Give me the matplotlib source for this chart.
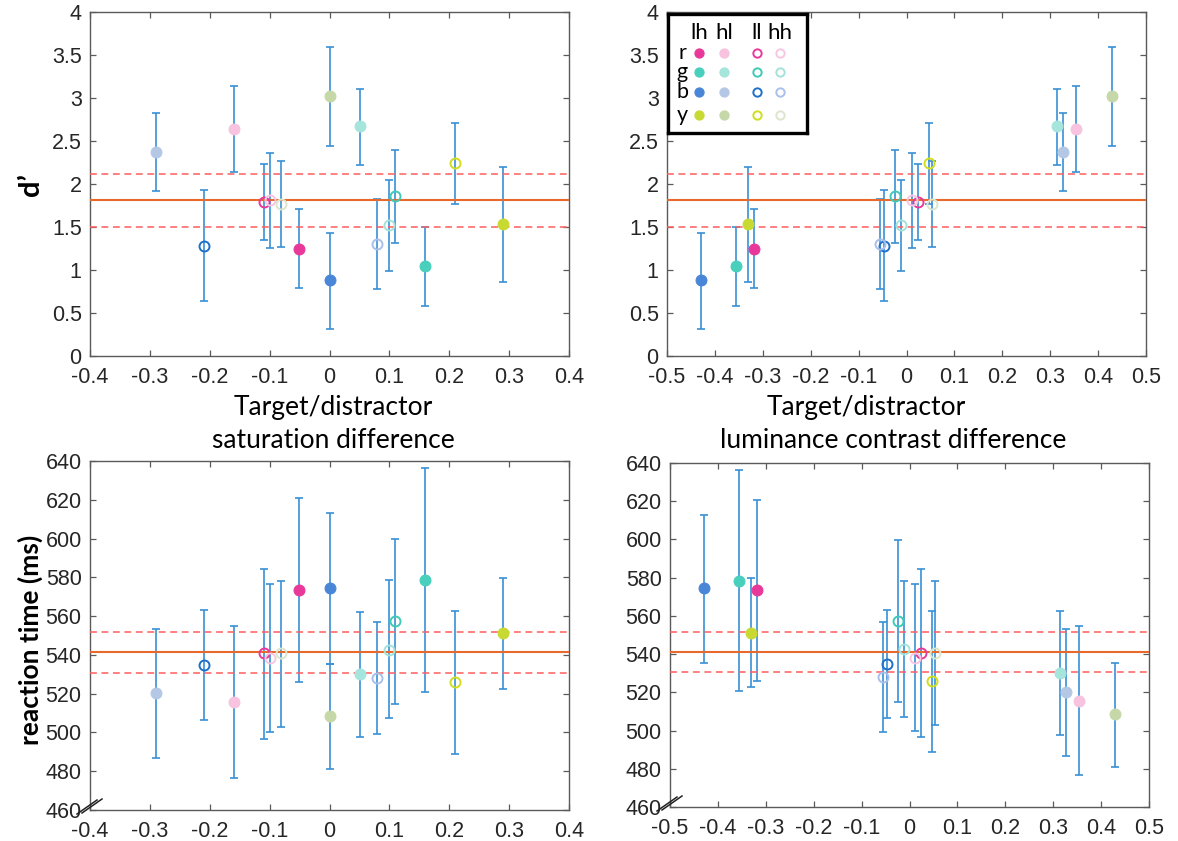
import matplotlib
matplotlib.use('Agg')
import matplotlib.pyplot as plt
from matplotlib.lines import Line2D

# ---------------- data ----------------
color_names = ['r', 'g', 'b', 'y']
type_names = ['lh', 'hl', 'll', 'hh']
type_filled = [True, True, False, False]
palette = [
    ['#E8399A', '#F7C3DF', '#E8399A', '#F8C6E1'],   # r
    ['#48D0BD', '#A6E5DC', '#3FCAB6', '#A3E3D9'],   # g
    ['#4A86D8', '#B4C8E6', '#1F70C8', '#A8C0EA'],   # b
    ['#C8DA32', '#C6D8A8', '#D0DE1E', '#DCE6CC'],   # y
]

# condition order: r-lh, r-hl, r-ll, r-hh, g-lh, ..., y-hh
sat_diff = [-0.051, -0.160, -0.110, -0.100,
            0.160, 0.051, 0.110, 0.100,
            0.000, -0.290, -0.210, 0.080,
            0.290, 0.000, 0.209, -0.081]
lum_diff = [-0.318, 0.353, 0.024, 0.012,
            -0.355, 0.315, -0.025, -0.012,
            -0.430, 0.326, -0.047, -0.056,
            -0.331, 0.429, 0.047, 0.054]
dprime = [1.248, 2.643, 1.787, 1.810,
          1.047, 2.674, 1.864, 1.527,
          0.880, 2.370, 1.283, 1.306,
          1.531, 3.027, 2.244, 1.771]
dprime_lo = [0.787, 2.140, 1.345, 1.260,
             0.581, 2.220, 1.318, 0.984,
             0.310, 1.915, 0.640, 0.783,
             0.864, 2.446, 1.764, 1.270]
dprime_hi = [1.713, 3.140, 2.233, 2.360,
             1.496, 3.110, 2.395, 2.050,
             1.426, 2.820, 1.934, 1.830,
             2.194, 3.590, 2.713, 2.270]
rt = [573.6, 515.7, 540.8, 538.2,
      578.4, 530.3, 557.5, 542.7,
      574.5, 520.1, 534.8, 528.0,
      551.3, 508.6, 525.8, 540.8]
rt_lo = [526.0, 476.6, 496.4, 500.0,
         520.8, 497.6, 514.8, 507.3,
         535.4, 486.6, 506.4, 499.2,
         522.6, 481.0, 488.7, 503.0]
rt_hi = [620.7, 554.7, 584.5, 576.7,
         636.2, 562.3, 599.6, 578.4,
         613.0, 553.3, 563.0, 557.0,
         579.8, 535.4, 562.6, 578.0]

dprime_mean = 1.81
dprime_ci = [1.50, 2.12]
rt_mean = 541.3
rt_ci = [530.5, 551.8]

dprime_ticks = [0, 0.5, 1, 1.5, 2, 2.5, 3, 3.5, 4]
dprime_ticklabels = ['0', '0.5', '1', '1.5', '2', '2.5', '3', '3.5', '4']
rt_ticks = [460, 480, 500, 520, 540, 560, 580, 600, 620, 640]
rt_ticklabels = ['460', '480', '500', '520', '540', '560', '580', '600', '620', '640']
sat_ticks = [-0.4, -0.3, -0.2, -0.1, 0, 0.1, 0.2, 0.3, 0.4]
sat_ticklabels = ['-0.4', '-0.3', '-0.2', '-0.1', '0', '0.1', '0.2', '0.3', '0.4']
lum_ticks = [-0.5, -0.4, -0.3, -0.2, -0.1, 0, 0.1, 0.2, 0.3, 0.4, 0.5]
lum_ticklabels = ['-0.5', '-0.4', '-0.3', '-0.2', '-0.1', '0', '0.1', '0.2', '0.3', '0.4', '0.5']

# ---------------- style ----------------
W, H = 1178, 841
BAR_C = '#3890D6'
MEAN_C = '#E8692E'
CI_C = '#FF5E5E'
SPINE_C = '#5A5A5A'
TICK_FONT = 'Liberation Sans'
LABEL_FONT = ['Lato', 'DejaVu Sans']

fig = plt.figure(figsize=(W / 100, H / 100), dpi=100)


def px_rect(l, t, r, b):
    return [l / W, 1 - b / H, (r - l) / W, (b - t) / H]


def cond_style(i):
    ci, ti = divmod(i, 4)
    col = palette[ci][ti]
    if type_filled[ti]:
        return dict(marker='o', markersize=7.8, markerfacecolor=col,
                    markeredgecolor=col, markeredgewidth=0.8)
    return dict(marker='o', markersize=7.2, markerfacecolor='none',
                markeredgecolor=col, markeredgewidth=1.4)


def panel(rect, x, y, lo, hi, mean, ci, xlim, xt, xtl, ylim, yt, ytl):
    ax = fig.add_axes(rect)
    for i in range(len(x)):
        ax.errorbar([x[i]], [y[i]], yerr=[[y[i] - lo[i]], [hi[i] - y[i]]],
                    fmt='none', ecolor=BAR_C, elinewidth=1.2, capsize=2.8,
                    capthick=1.2, zorder=2)
    ax.axhline(mean, color=MEAN_C, lw=1.5, zorder=3)
    for c in ci:
        ax.axhline(c, color=CI_C, lw=1.1, ls=(0, (4.5, 3)), zorder=3)
    for i in range(len(x)):
        ax.plot([x[i]], [y[i]], linestyle='none', zorder=4, **cond_style(i))
    ax.set_xlim(*xlim)
    ax.set_ylim(*ylim)
    ax.set_xticks(xt)
    ax.set_xticklabels(xtl)
    ax.set_yticks(yt)
    ax.set_yticklabels(ytl)
    ax.tick_params(direction='in', length=4, width=0.9, color=SPINE_C,
                   top=True, right=True, labelsize=15.5, labelcolor='#262626')
    ax.tick_params(axis='x', pad=8)
    ax.tick_params(axis='y', pad=6)
    for lab in ax.get_xticklabels() + ax.get_yticklabels():
        lab.set_fontfamily(TICK_FONT)
    for s in ax.spines.values():
        s.set_color(SPINE_C)
        s.set_linewidth(1.0)
    return ax


ax1 = panel(px_rect(90, 12, 569, 356), sat_diff, dprime, dprime_lo, dprime_hi,
            dprime_mean, dprime_ci, (-0.4, 0.4), sat_ticks, sat_ticklabels,
            (0, 4), dprime_ticks, dprime_ticklabels)
ax2 = panel(px_rect(667, 12, 1146, 356), lum_diff, dprime, dprime_lo, dprime_hi,
            dprime_mean, dprime_ci, (-0.5, 0.5), lum_ticks, lum_ticklabels,
            (0, 4), dprime_ticks, dprime_ticklabels)
ax3 = panel(px_rect(90, 461, 569, 810), sat_diff, rt, rt_lo, rt_hi,
            rt_mean, rt_ci, (-0.4, 0.4), sat_ticks, sat_ticklabels,
            (460, 640), rt_ticks, rt_ticklabels)
ax4 = panel(px_rect(670, 463, 1149, 807), lum_diff, rt, rt_lo, rt_hi,
            rt_mean, rt_ci, (-0.5, 0.5), lum_ticks, lum_ticklabels,
            (460, 640), rt_ticks, rt_ticklabels)

# axis labels
def ftext(xp, yp, s, **kw):
    fig.text(xp / W, 1 - yp / H, s, ha='center', va='center', **kw)

ftext(333, 408, 'Target/distractor', fontsize=19, family=LABEL_FONT)
ftext(333, 441, 'saturation difference', fontsize=19, family=LABEL_FONT)
ftext(866, 408, 'Target/distractor', fontsize=19, family=LABEL_FONT)
ftext(893, 441, 'luminance contrast difference', fontsize=19, family=LABEL_FONT)
ftext(31, 185, 'd\u2019', fontsize=21, family=LABEL_FONT, fontweight='bold',
      rotation=90)
ftext(30, 640, 'reaction time (ms)', fontsize=19, family=LABEL_FONT,
      fontweight='bold', rotation=90)

# axis-break marks
for (x0, y0) in [(77, 812), (657, 809)]:
    for d in (0, 5):
        fig.add_artist(Line2D([(x0 + d) / W, (x0 + d + 20) / W],
                              [1 - (y0 - d * 0.2 + 2) / H, 1 - (y0 - d * 0.2 - 12) / H],
                              color='#222222', lw=1.1))

# legend grid
lg = fig.add_axes(px_rect(668, 14, 807, 133))
lg.set_xlim(0, 139)
lg.set_ylim(119, 0)
lg.set_xticks([])
lg.set_yticks([])
for s in lg.spines.values():
    s.set_linewidth(2.4)
    s.set_color('black')
col_x = [31, 56, 89, 112]
row_y = [39, 58, 78, 101]
for ti, name in enumerate(type_names):
    lg.text(col_x[ti], 19, name, ha='center', va='center', fontsize=16,
            family=LABEL_FONT)
for ci, name in enumerate(color_names):
    lg.text(14, row_y[ci], name, ha='center', va='center', fontsize=15.5,
            family=LABEL_FONT)
    for ti in range(4):
        st = cond_style(ci * 4 + ti)
        st['markersize'] = st['markersize'] - 1.2
        lg.plot([col_x[ti]], [row_y[ci]], linestyle='none', **st)

fig.savefig('out.png', dpi=100)
